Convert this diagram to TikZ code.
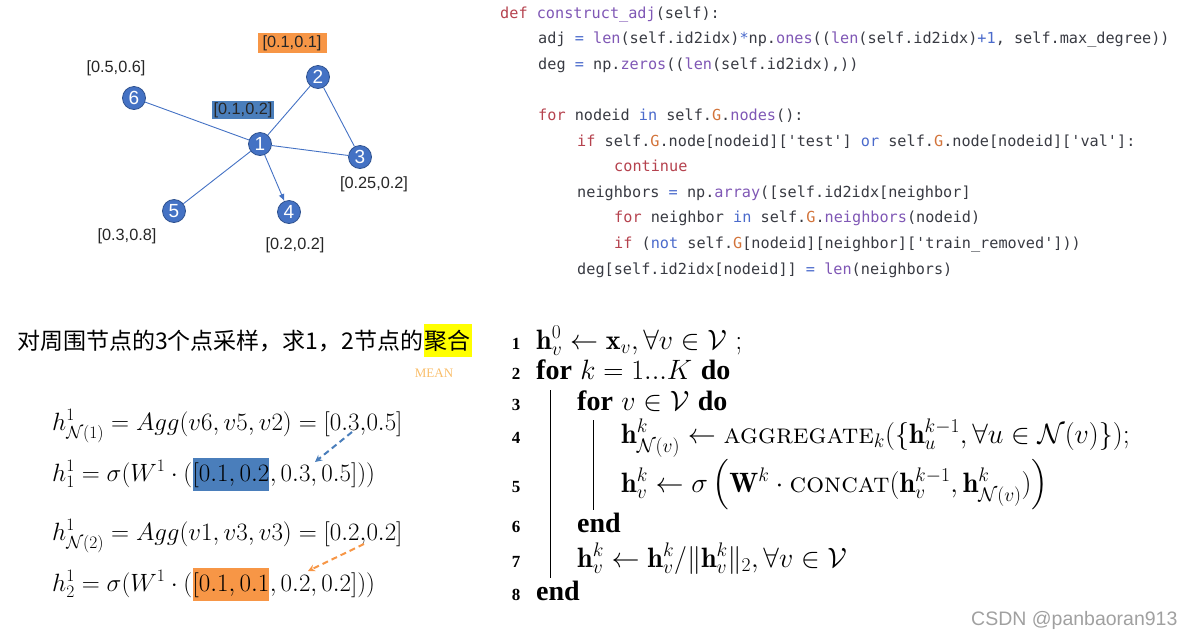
\RequirePackage{fix-cm}
\documentclass[tikz,border=0pt]{standalone}
\usepackage{amsmath,amssymb}
\usepackage{fontspec}
\setmonofont{DejaVu Sans Mono}
\newfontfamily\cjk{Noto Sans CJK SC}
\newfontfamily\lblfont{Liberation Sans}
\newfontfamily\algfont{Liberation Serif}
\usetikzlibrary{arrows.meta}

\definecolor{nodeblue}{HTML}{4472C4}
\definecolor{nodeedge}{HTML}{2F528F}
\definecolor{hlblue}{HTML}{4A7EBB}
\definecolor{hlorange}{HTML}{F79646}
\definecolor{hlyellow}{HTML}{FFFF00}
\definecolor{meanorange}{HTML}{F9BE6B}
\definecolor{codetext}{HTML}{383A42}
\definecolor{codekw}{HTML}{B5424E}
\definecolor{codefn}{HTML}{7F57B5}
\definecolor{codeop}{HTML}{4A6ACB}
\definecolor{codeG}{HTML}{D2733A}
\definecolor{wmgray}{HTML}{A0A0A0}

% code colouring
\newcommand\ckw[1]{\textcolor{codekw}{#1}}
\newcommand\cfn[1]{\textcolor{codefn}{#1}}
\newcommand\cop[1]{\textcolor{codeop}{#1}}
\newcommand\cG{\textcolor{codeG}{G}}
\newcommand\algkw[1]{{\algfont\bfseries #1}}

\begin{document}
\begin{tikzpicture}[
  x=1pt, y=-1pt,
  gnode/.style={circle, fill=nodeblue, draw=nodeedge, line width=0.8pt, text=white,
    font=\lblfont\fontsize{19}{19}\selectfont, minimum size=23pt, inner sep=0pt},
  glbl/.style={font=\lblfont\fontsize{16.3}{16}\selectfont, inner sep=1.5pt, text=black!85},
  gedge/.style={draw=nodeblue, line width=0.9pt},
  codeln/.style={anchor=base west, inner sep=0pt, text=codetext,
    font=\ttfamily\fontsize{15.2}{18}\selectfont},
  fml/.style={anchor=base west, inner xsep=0pt, inner ysep=4pt, font=\fontsize{25}{28}\selectfont},
  hl/.style={fml, fill=#1},
  algno/.style={anchor=base, inner sep=0pt, font=\algfont\bfseries\fontsize{17}{20}\selectfont},
  algln/.style={anchor=base west, inner sep=0pt, font=\fontsize{28}{30}\selectfont},
  dasharr/.style={line width=2pt, dash pattern=on 6pt off 4pt, -{Stealth[length=7pt,width=7pt]}}
]
\useasboundingbox (0,0) rectangle (1196,638);

% graph
\node[gnode] (n1) at (260,144) {1};
\node[gnode] (n2) at (318,77) {2};
\node[gnode] (n3) at (360,157) {3};
\node[gnode] (n4) at (289,212) {4};
\node[gnode] (n5) at (174,211) {5};
\node[gnode] (n6) at (134,98) {6};
\draw[gedge] (n1) -- (n6);
\draw[gedge] (n1) -- (n2);
\draw[gedge] (n1) -- (n3);
\draw[gedge] (n1) -- (n5);
\draw[gedge] (n2) -- (n3);
\draw[gedge, -{Latex[length=7pt,width=6pt]}] (n1) -- (n4);

\node[glbl, fill=hlorange, minimum width=69pt, minimum height=20pt] (l2) at (292,43) {[0.1,0.1]};
\node[glbl, fill=hlblue, minimum width=60pt, minimum height=18pt] (l1) at (243,110) {[0.1,0.2]};
\node[glbl] (l6) at (116,68) {[0.5,0.6]};
\node[glbl] (l3) at (374,184) {[0.25,0.2]};
\node[glbl] (l5) at (127,236) {[0.3,0.8]};
\node[glbl] (l4) at (295,245) {[0.2,0.2]};

% code
\node[codeln] (code0) at (500,18.0) {\ckw{def} \cfn{construct\_adj}(self):};
\node[codeln] (code1) at (538,43.6) {adj \cop{=} \cfn{len}(self.id2idx)\cop{*}np.\cfn{ones}((\cfn{len}(self.id2idx)\cop{+1}, self.max\_degree))};
\node[codeln] (code2) at (538,69.2) {deg \cop{=} np.\cfn{zeros}((\cfn{len}(self.id2idx),))};
\node[codeln] (code4) at (538,120.4) {\ckw{for} nodeid \cop{in} self.\cG.\cfn{nodes}():};
\node[codeln] (code5) at (577,146.0) {\ckw{if} self.\cG.node[nodeid]['test'] \cop{or} self.\cG.node[nodeid]['val']:};
\node[codeln] (code6) at (614,171.6) {\ckw{continue}};
\node[codeln] (code7) at (577,197.2) {neighbors \cop{=} np.\cfn{array}([self.id2idx[neighbor]};
\node[codeln] (code8) at (614,222.8) {\ckw{for} neighbor \cop{in} self.\cG.\cfn{neighbors}(nodeid)};
\node[codeln] (code9) at (614,248.4) {\ckw{if} (\cop{not} self.\cG[nodeid][neighbor]['train\_removed']))};
\node[codeln] (code10) at (577,274.0) {deg[self.id2idx[nodeid]] \cop{=} \cfn{len}(neighbors)};

% note
\node[anchor=base west, inner xsep=0pt, inner ysep=6pt, font=\cjk\fontsize{23}{26}\selectfont] (note)
  at (17,349) {对周围节点的3个点采样，求1，2节点的};
\node[anchor=base west, inner xsep=1pt, inner ysep=6pt, fill=hlyellow, font=\cjk\fontsize{23}{26}\selectfont] (noteagg)
  at (note.base east) {聚合};
\node[text=meanorange, font=\algfont\fontsize{13}{13}\selectfont] (mean) at (434,373) {MEAN};

% worked example
\node[fml] (f1) at (52,430) {$h^1_{\mathcal{N}(1)} = Agg(v6, v5, v2) = [0.3{,}0.5]$};
\node[fml] (f2a) at (52,481) {$h^1_1 = \sigma(W^1 \cdot ($};
\node[hl=hlblue] (f2b) at (f2a.base east) {$[0.1, 0.2$};
\node[fml] (f2c) at (f2b.base east) {$, 0.3, 0.5]))$};
\node[fml] (f3) at (52,540) {$h^1_{\mathcal{N}(2)} = Agg(v1, v3, v3) = [0.2{,}0.2]$};
\node[fml] (f4a) at (52,591) {$h^1_2 = \sigma(W^1 \cdot ($};
\node[hl=hlorange] (f4b) at (f4a.base east) {$[0.1, 0.1$};
\node[fml] (f4c) at (f4b.base east) {$, 0.2, 0.2]))$};
\coordinate (bluefrom) at (352,432);
\coordinate (blueto) at (315,462);
\coordinate (orangefrom) at (364,544);
\coordinate (orangeto) at (308,571);
\draw[dasharr, hlblue] (bluefrom) -- (blueto);
\draw[dasharr, hlorange] (orangefrom) -- (orangeto);

% algorithm
\foreach \n/\y in {1/349,2/379,3/410,4/443,5/492,6/532,7/567,8/600}
  \node[algno] (no\n) at (516,\y) {\n};
\node[algln] (a1) at (536,349) {$\mathbf{h}^0_v \leftarrow \mathbf{x}_v, \forall v \in \mathcal{V}$ ;};
\node[algln] (a2) at (536,379) {\algkw{for} $k = 1...K$ \algkw{do}};
\node[algln] (a3) at (577,410) {\algkw{for} $v \in \mathcal{V}$ \algkw{do}};
\node[algln] (a4) at (621,443) {$\mathbf{h}^k_{\mathcal{N}(v)} \leftarrow \textsc{aggregate}_k(\{\mathbf{h}^{k-1}_u, \forall u \in \mathcal{N}(v)\})$;};
\node[algln] (a5) at (621,492) {$\mathbf{h}^k_v \leftarrow \sigma\left(\mathbf{W}^k \cdot \textsc{concat}(\mathbf{h}^{k-1}_v, \mathbf{h}^k_{\mathcal{N}(v)})\right)$};
\node[algln] (a6) at (577,532) {\algkw{end}};
\node[algln] (a7) at (577,567) {$\mathbf{h}^k_v \leftarrow \mathbf{h}^k_v / \|\mathbf{h}^k_v\|_2, \forall v \in \mathcal{V}$};
\node[algln] (a8) at (536,600) {\algkw{end}};
\draw[line width=1pt] (550,390) -- (550,578);
\draw[line width=1pt] (593,420) -- (593,510);

\node[anchor=east, text=wmgray, font=\lblfont\fontsize{19.5}{20}\selectfont] (wm) at (1181,620) {CSDN @panbaoran913};
\end{tikzpicture}
\end{document}
